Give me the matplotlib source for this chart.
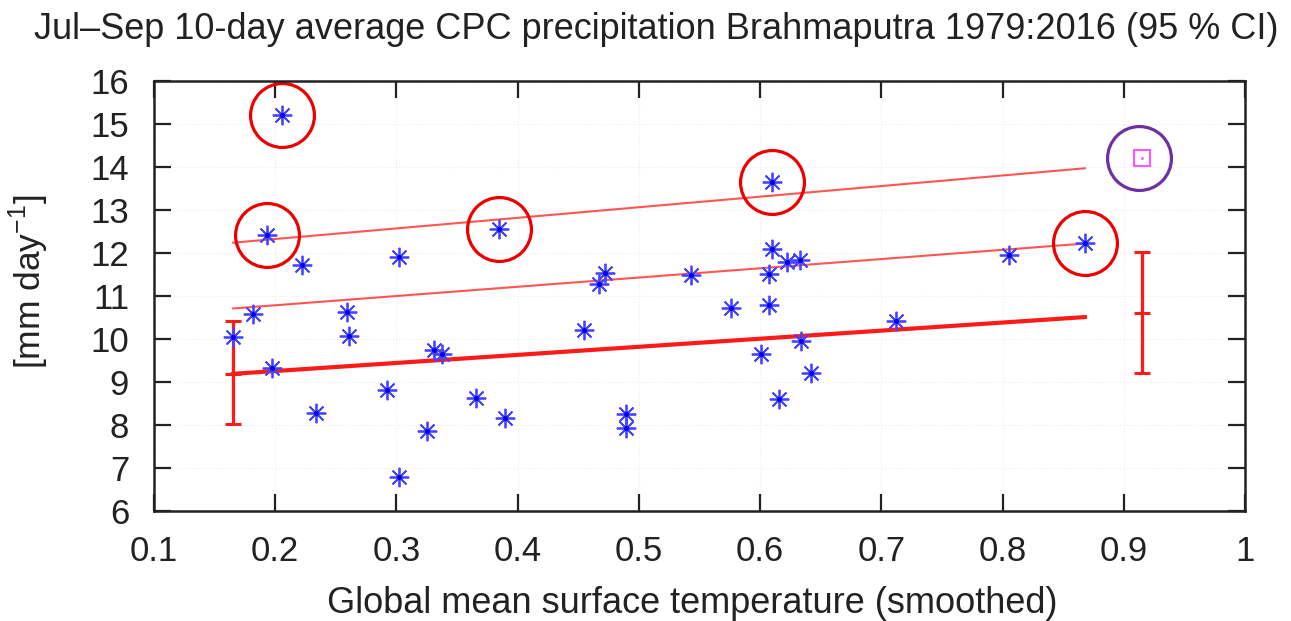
import numpy as np
import matplotlib
matplotlib.use('Agg')
import matplotlib.pyplot as plt

plt.rcParams['font.family'] = ['Liberation Sans', 'DejaVu Sans']
plt.rcParams['mathtext.fontset'] = 'custom'
plt.rcParams['mathtext.rm'] = 'Liberation Sans'

# yearly points 1979:2016 (smoothed GMST, 10-day precip)
gmst = [0.1648, 0.1819, 0.193, 0.1976, 0.2054, 0.2224, 0.2335, 0.2592,
        0.2611, 0.2923, 0.3019, 0.3019, 0.3248, 0.3309, 0.3378, 0.3654,
        0.3847, 0.3894, 0.455, 0.467, 0.4724, 0.4897, 0.4897, 0.5428,
        0.5757, 0.6007, 0.6077, 0.6077, 0.6096, 0.6096, 0.6152, 0.622,
        0.633, 0.6339, 0.6421, 0.712, 0.805, 0.8679]
precip = [10.05, 10.57, 12.42, 9.33, 15.21, 11.73, 8.28, 10.63,
          10.08, 8.82, 11.90, 6.79, 7.85, 9.75, 9.64, 8.63,
          12.55, 8.16, 10.22, 11.29, 11.54, 8.25, 7.93, 11.48,
          10.72, 9.64, 11.52, 10.80, 13.64, 12.10, 8.60, 11.79,
          11.83, 9.95, 9.21, 10.41, 11.95, 12.24]
circled = [2, 4, 16, 28, 37]

# fit lines (start/end of the fit range)
fit_x = [0.1653, 0.8679]
fit_mean = [9.19, 10.51]
fit_mid = [10.71, 12.22]
fit_top = [12.24, 13.97]

# confidence intervals at the two ends
ci_x = [0.1653, 0.9153]
ci_mid = [9.19, 10.61]
ci_lo = [8.03, 9.21]
ci_hi = [10.41, 12.02]

# observed 2017 value
obs_x = [0.9153]
obs_y = [14.20]

TEXT_COLOR = '#222222'


def main():
    fig = plt.figure(figsize=(12.91, 6.21), dpi=100)
    ax = fig.add_axes([154 / 1291, 1 - 511 / 621, 1091 / 1291, 430 / 621])

    ax.grid(True, color='#ececec', linewidth=0.8, linestyle=':')
    ax.set_axisbelow(True)

    ax.plot(fit_x, fit_top, color='#ff5555', lw=1.5)
    ax.plot(fit_x, fit_mid, color='#ff5555', lw=1.5)
    ax.plot(fit_x, fit_mean, color='#ff1a1a', lw=3)

    lo = np.array(ci_mid) - np.array(ci_lo)
    hi = np.array(ci_hi) - np.array(ci_mid)
    ax.errorbar(ci_x, ci_mid, yerr=[lo, hi], fmt='_', color='#ff1a1a',
                ms=12, mew=2.2, elinewidth=2.3, capsize=6, capthick=2.3)

    ax.plot(gmst, precip, ls='none', marker=(8, 2, 0), ms=14,
            mew=1.3, color='#4444ff')
    ax.plot(gmst, precip, ls='none', marker='o', ms=2.5, color='#0000ee')

    ax.plot(obs_x, obs_y, ls='none', marker='s', ms=12, mfc='none',
            mec='#ff55ff', mew=1.5)
    ax.plot(obs_x, obs_y, ls='none', marker='.', ms=2, color='#ff55ff')

    cx = [gmst[i] for i in circled]
    cy = [precip[i] for i in circled]
    ax.plot(cx, cy, ls='none', marker='o', ms=46, mfc='none',
            mec='#ee0000', mew=2.3)
    ax.plot([obs_x[0] - 0.003], obs_y, ls='none', marker='o', ms=46,
            mfc='none', mec='#7030a0', mew=2.3)

    ax.set_xlim(0.1, 1.0)
    ax.set_ylim(6, 16)
    ax.set_xticks(np.arange(0.1, 1.01, 0.1))
    ax.set_xticklabels(['0.1', '0.2', '0.3', '0.4', '0.5', '0.6', '0.7',
                        '0.8', '0.9', '1'])
    ax.set_yticks(range(6, 17))
    ax.tick_params(direction='in', top=True, right=True, length=12,
                   width=1.6, labelsize=25, color=TEXT_COLOR,
                   labelcolor=TEXT_COLOR)
    ax.tick_params(axis='y', pad=18)
    ax.tick_params(axis='x', pad=17)
    for s in ax.spines.values():
        s.set_linewidth(1.8)
        s.set_color(TEXT_COLOR)

    fig.text(656 / 1291, 1 - 39 / 621,
             'Jul\u2013Sep 10-day average CPC precipitation Brahmaputra '
             '1979:2016 (95 % CI)', ha='center', va='baseline', fontsize=26,
             color=TEXT_COLOR)
    fig.text(692 / 1291, 1 - 613 / 621,
             'Global mean surface temperature (smoothed)', ha='center',
             va='baseline', fontsize=26, color=TEXT_COLOR)
    fig.text(29 / 1291, 1 - 282 / 621, r'[mm day$^{\mathrm{-1}}$]',
             rotation=90, ha='center', va='center', fontsize=25.5,
             color=TEXT_COLOR)

    fig.savefig('out.png', dpi=100)


if __name__ == '__main__':
    main()
